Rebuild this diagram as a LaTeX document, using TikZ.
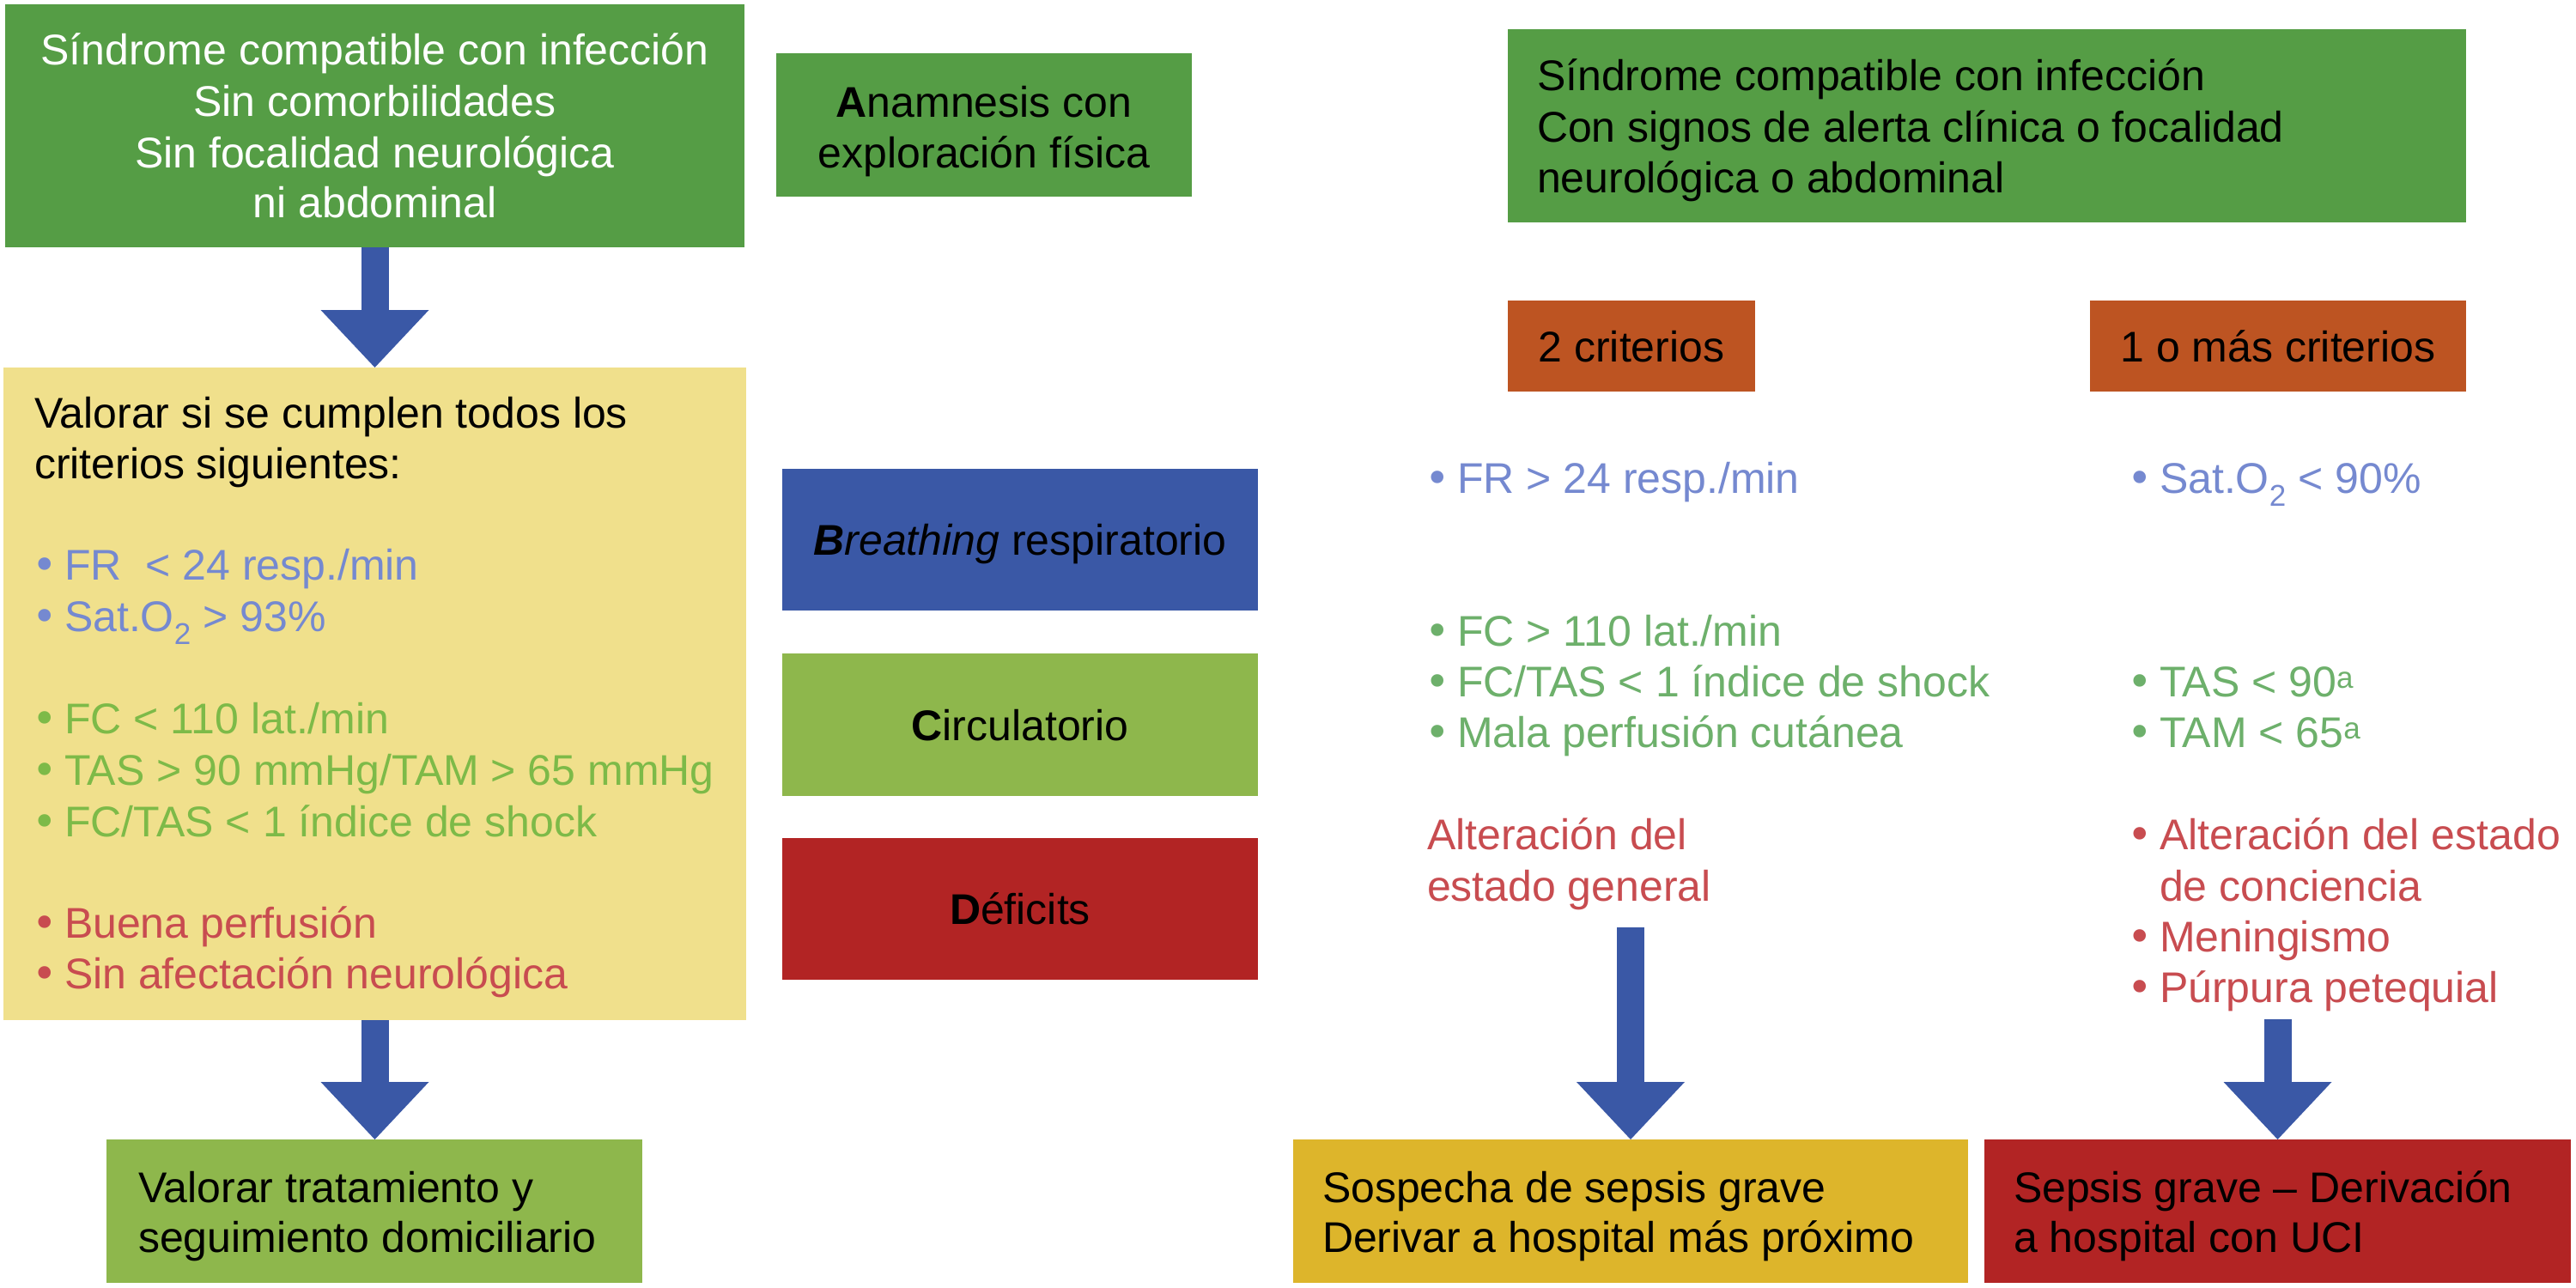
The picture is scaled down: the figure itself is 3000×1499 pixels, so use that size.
\documentclass[tikz,border=0pt]{standalone}
\usepackage{fontspec}
\setmainfont{Liberation Sans}
\newfontfamily\bulfont{DejaVu Sans}
\usetikzlibrary{arrows.meta}
\definecolor{dgreen}{HTML}{559D45}
\definecolor{lgreen}{HTML}{8EB74C}
\definecolor{ybox}{HTML}{F0E08C}
\definecolor{bbox}{HTML}{3A58A6}
\definecolor{rbox}{HTML}{B22424}
\definecolor{obox}{HTML}{BD5422}
\definecolor{gbox}{HTML}{DDB52B}
\definecolor{tblue}{HTML}{7589D0}
\definecolor{tgreenA}{HTML}{7DBA48}
\definecolor{tgreenB}{HTML}{6DB06B}
\definecolor{tred}{HTML}{C84C50}
\newcommand\fsz{\fontsize{50}{60}\selectfont}
\newcommand\bul{\makebox[38pt][l]{\bulfont •}}
\newcommand\nobul{\makebox[38pt][l]{}}
\tikzset{
  box/.style={inner sep=0pt, outer sep=0pt, draw=none},
  one/.style={text height=36pt, text depth=0pt, font=\fsz, align=center},
  txt/.style={inner sep=0pt, outer sep=0pt, anchor=base west, font=\fsz},
  ctxt/.style={inner sep=0pt, outer sep=0pt, anchor=base, font=\fsz},
  bigarrow/.style={draw=bbox, line width=32pt, -{Triangle[length=67pt, width=126pt, line width=0pt]}},
}
\begin{document}
\begin{tikzpicture}[x=1pt,y=-1pt]
\useasboundingbox (0,0) rectangle (3000,1499);
\fill[white] (0,0) rectangle (3000,1499);

% left column
\node[box, fill=dgreen, minimum width=861pt, minimum height=283pt] (b1) at (436.5,146.5) {};
\node[ctxt, white] (b1l1) at (436.5,75) {Síndrome compatible con infección};
\node[ctxt, white] (b1l2) at (436.5,135) {Sin comorbilidades};
\node[ctxt, white] (b1l3) at (436.5,195) {Sin focalidad neurológica};
\node[ctxt, white] (b1l4) at (436.5,253) {ni abdominal};

\node[box, fill=ybox, minimum width=865pt, minimum height=760pt] (yb) at (436.5,808) {};
\node[txt] (y1) at (40,498) {Valorar si se cumplen todos los};
\node[txt] (y2) at (40,557) {criterios siguientes:};
\node[txt, tblue] (y3) at (37,675) {\bul FR\ \ < 24 resp./min};
\node[txt, tblue] (y4) at (37,735) {\bul Sat.O\textsubscript{2} > 93\%};
\node[txt, tgreenA] (y5) at (37,854) {\bul FC < 110 lat./min};
\node[txt, tgreenA] (y6) at (37,914) {\bul TAS > 90 mmHg/TAM > 65 mmHg};
\node[txt, tgreenA] (y7) at (37,974) {\bul FC/TAS < 1 índice de shock};
\node[txt, tred] (y8) at (37,1092) {\bul Buena perfusión};
\node[txt, tred] (y9) at (37,1151) {\bul Sin afectación neurológica};

\node[box, fill=lgreen, minimum width=624pt, minimum height=167pt] (vt) at (436,1410.5) {};
\node[txt] (vt1) at (161,1400) {Valorar tratamiento y};
\node[txt] (vt2) at (161,1458) {seguimiento domiciliario};

\draw[bigarrow] (b1.south) -- (yb.north);
\draw[bigarrow] (yb.south) -- (yb.south |- vt.north);

% middle column
\node[box, fill=dgreen, minimum width=484pt, minimum height=167pt] (ab) at (1146,145.5) {};
\node[ctxt] (ab1) at (1146,136) {\textbf{A}namnesis con};
\node[ctxt] (ab2) at (1146,195) {exploración física};

\node[box, one, fill=bbox, minimum width=554pt, minimum height=165pt] (bb) at (1188,628.5) {\textbf{\textit{B}}\textit{reathing} respiratorio};
\node[box, one, fill=lgreen, minimum width=554pt, minimum height=166pt] (cb) at (1188,844) {\textbf{C}irculatorio};
\node[box, one, fill=rbox, minimum width=554pt, minimum height=165pt] (db) at (1188,1058.5) {\textbf{D}éficits};

% right part
\node[box, fill=dgreen, minimum width=1116pt, minimum height=225pt] (rb) at (2314,146.5) {};
\node[txt] (rb1) at (1790,105) {Síndrome compatible con infección};
\node[txt] (rb2) at (1790,165) {Con signos de alerta clínica o focalidad};
\node[txt] (rb3) at (1790,224) {neurológica o abdominal};

\node[box, one, fill=obox, minimum width=288pt, minimum height=106pt] (o1) at (1900,403) {2 criterios};
\node[box, one, fill=obox, minimum width=438pt, minimum height=106pt] (o2) at (2653,403) {1 o más criterios};

\node[txt, tblue] (p1) at (1659,574) {\bul FR > 24 resp./min};
\node[txt, tgreenB] (p2) at (1659,752) {\bul FC > 110 lat./min};
\node[txt, tgreenB] (p3) at (1659,811) {\bul FC/TAS < 1 índice de shock};
\node[txt, tgreenB] (p4) at (1659,870) {\bul Mala perfusión cutánea};
\node[txt, tred] (p5) at (1662,989) {Alteración del};
\node[txt, tred] (p6) at (1662,1049) {estado general};

\node[txt, tblue] (q1) at (2477,574) {\bul Sat.O\textsubscript{2} < 90\%};
\node[txt, tgreenB] (q2) at (2477,811) {\bul TAS < 90\textsuperscript{a}};
\node[txt, tgreenB] (q3) at (2477,870) {\bul TAM < 65\textsuperscript{a}};
\node[txt, tred] (q4) at (2477,989) {\bul Alteración del estado};
\node[txt, tred] (q5) at (2477,1049) {\nobul de conciencia};
\node[txt, tred] (q6) at (2477,1108) {\bul Meningismo};
\node[txt, tred] (q7) at (2477,1167) {\bul Púrpura petequial};

\node[box, fill=gbox, minimum width=786pt, minimum height=167pt] (sb) at (1899,1410.5) {};
\node[txt] (sb1) at (1540,1400) {Sospecha de sepsis grave};
\node[txt] (sb2) at (1540,1458) {Derivar a hospital más próximo};

\node[box, fill=rbox, minimum width=683pt, minimum height=167pt] (gb) at (2652.5,1410.5) {};
\node[txt] (gb1) at (2345,1400) {Sepsis grave – Derivación};
\node[txt] (gb2) at (2345,1458) {a hospital con UCI};

\coordinate (s3) at (1899,1080);
\coordinate (s4) at (2652.5,1187);
\draw[bigarrow] (s3) -- (sb.north);
\draw[bigarrow] (s4) -- (gb.north);
\end{tikzpicture}
\end{document}
